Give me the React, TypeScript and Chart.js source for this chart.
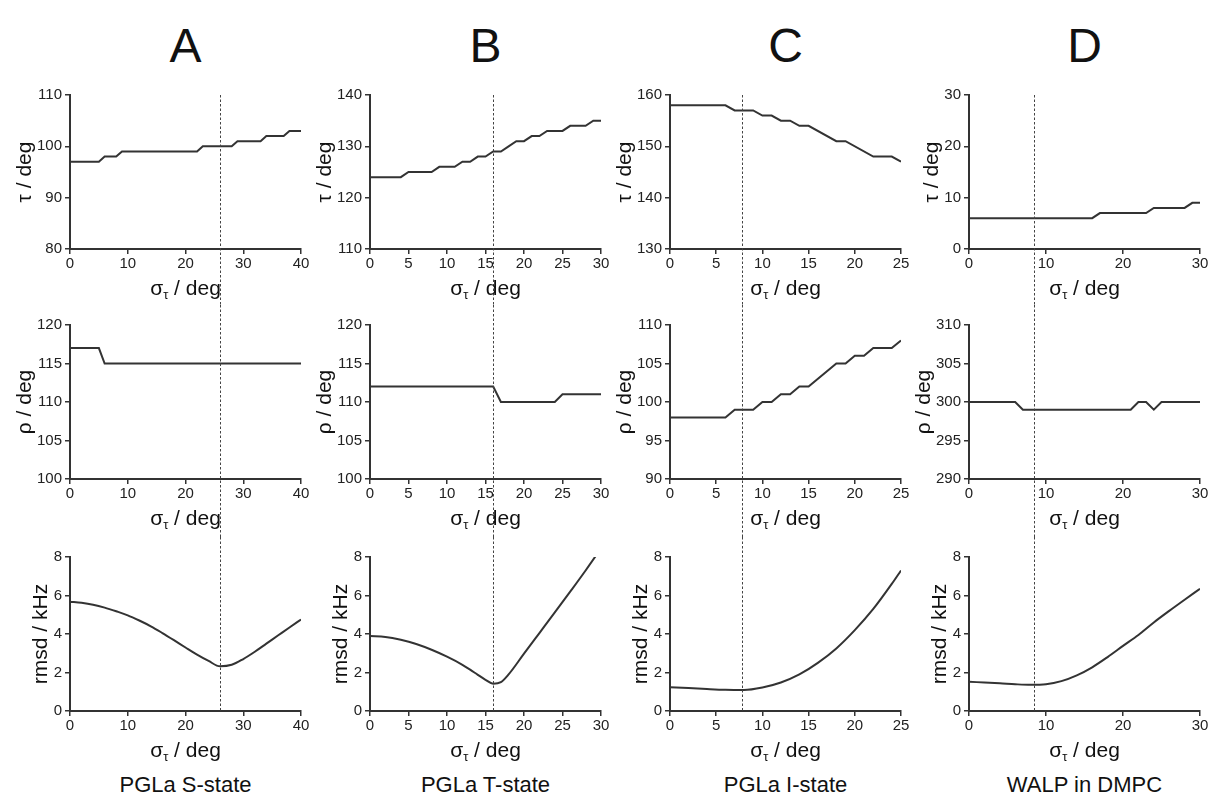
import React, { useEffect, useRef } from "react";
import { Chart, registerables } from "chart.js";

Chart.register(...registerables);

const FONT = '"Liberation Sans", Arial, Helvetica, sans-serif';

// ---------- DATA ----------
const panelLetters = ["A", "B", "C", "D"];
const panelNames = ["PGLa S-state", "PGLa T-state", "PGLa I-state", "WALP in DMPC"];
const markerSigma = [26, 16, 7.8, 8.5];

const xMaxes = [40, 30, 25, 30];
const xSteps = [10, 5, 5, 10];

const tauRanges = [[80, 110, 10], [110, 140, 10], [130, 160, 10], [0, 30, 10]];
const rhoRanges = [[100, 120, 5], [100, 120, 5], [90, 110, 5], [290, 310, 5]];
const rmsdRanges = [[0, 8, 2], [0, 8, 2], [0, 8, 2], [0, 8, 2]];

// A: PGLa S-state
const aTauX = [0, 5, 6, 8, 9, 22, 23, 28, 29, 33, 34, 37, 38, 40];
const aTauY = [97, 97, 98, 98, 99, 99, 100, 100, 101, 101, 102, 102, 103, 103];
const aRhoX = [0, 5, 6, 40];
const aRhoY = [117, 117, 115, 115];
const aRmsdX = [0, 2, 4, 6, 8, 10, 12, 14, 16, 18, 20, 22, 24, 26, 28, 30, 32, 34, 36, 38, 40];
const aRmsdY = [5.68, 5.62, 5.52, 5.37, 5.18, 4.97, 4.7, 4.4, 4.05, 3.68, 3.3, 2.93, 2.6, 2.32, 2.4, 2.7, 3.08, 3.5, 3.92, 4.34, 4.75];

// B: PGLa T-state
const bTauX = [0, 4, 5, 8, 9, 11, 12, 13, 14, 15, 16, 17, 18, 19, 20, 21, 22, 23, 25, 26, 28, 29, 30];
const bTauY = [124, 124, 125, 125, 126, 126, 127, 127, 128, 128, 129, 129, 130, 131, 131, 132, 132, 133, 133, 134, 134, 135, 135];
const bRhoX = [0, 16, 17, 24, 25, 30];
const bRhoY = [112, 112, 110, 110, 111, 111];
const bRmsdX = [0, 2, 4, 6, 8, 10, 12, 13, 14, 15, 16, 17, 18, 20, 22, 24, 26, 28, 30];
const bRmsdY = [3.9, 3.85, 3.7, 3.48, 3.18, 2.82, 2.4, 2.15, 1.88, 1.62, 1.42, 1.5, 1.9, 2.98, 4.05, 5.12, 6.2, 7.3, 8.45];

// C: PGLa I-state
const cTauX = [0, 6, 7, 9, 10, 11, 12, 13, 14, 15, 18, 19, 22, 24, 25];
const cTauY = [158, 158, 157, 157, 156, 156, 155, 155, 154, 154, 151, 151, 148, 148, 147];
const cRhoX = [0, 6, 7, 9, 10, 11, 12, 13, 14, 15, 18, 19, 20, 21, 22, 24, 25];
const cRhoY = [98, 98, 99, 99, 100, 100, 101, 101, 102, 102, 105, 105, 106, 106, 107, 107, 108];
const cRmsdX = [0, 2, 4, 6, 8, 10, 12, 14, 16, 18, 20, 22, 24, 25];
const cRmsdY = [1.23, 1.19, 1.14, 1.1, 1.09, 1.22, 1.48, 1.9, 2.5, 3.25, 4.2, 5.3, 6.6, 7.3];

// D: WALP in DMPC
const dTauX = [0, 16, 17, 23, 24, 28, 29, 30];
const dTauY = [6, 6, 7, 7, 8, 8, 9, 9];
const dRhoX = [0, 6, 7, 21, 22, 23, 24, 25, 30];
const dRhoY = [300, 300, 299, 299, 300, 300, 299, 300, 300];
const dRmsdX = [0, 2, 4, 6, 8, 10, 12, 14, 16, 18, 20, 22, 24, 26, 28, 30];
const dRmsdY = [1.52, 1.48, 1.44, 1.39, 1.36, 1.39, 1.55, 1.85, 2.27, 2.8, 3.38, 3.95, 4.6, 5.2, 5.78, 6.35];

const seriesGrid = [
  [[aTauX, aTauY], [bTauX, bTauY], [cTauX, cTauY], [dTauX, dTauY]],
  [[aRhoX, aRhoY], [bRhoX, bRhoY], [cRhoX, cRhoY], [dRhoX, dRhoY]],
  [[aRmsdX, aRmsdY], [bRmsdX, bRmsdY], [cRmsdX, cRmsdY], [dRmsdX, dRmsdY]],
];
const rowRanges = [tauRanges, rhoRanges, rmsdRanges];
const rowTitles = ["τ / deg", "ρ / deg", "rmsd / kHz"];

// ---------- LAYOUT ----------
const COL_LEFT = [70, 370, 670, 969];
const PLOT_W = 231;
const PLOT_H = 154;
const PAD_TOP = 20;
const Y_AXIS_W = 70;
const PAD_RIGHT = 10;
const CANVAS_W = Y_AXIS_W + PLOT_W + PAD_RIGHT;
const CANVAS_TOP = [75, 305, 537];
const CANVAS_H = [230, 232, 231];
const TICK_SIZE = 15;
const TITLE_SIZE = 21;
const SUB_SIZE = 13;
const INK = "#333";

const decorPlugin = {
  id: "decor",
  afterDraw(chart: any, _args: any, o: any) {
    const { ctx, chartArea: ca } = chart;
    const xs = chart.scales.x;
    const ys = chart.scales.y;
    ctx.save();
    // vertical dashed marker
    const px = Math.round(xs.getPixelForValue(o.marker)) + 0.5;
    ctx.strokeStyle = "#444";
    ctx.lineWidth = 1;
    ctx.setLineDash([2.5, 2]);
    ctx.beginPath();
    ctx.moveTo(px, o.row === 0 ? ca.top : 0);
    ctx.lineTo(px, o.row === 2 ? ca.bottom : chart.height);
    ctx.stroke();
    ctx.setLineDash([]);

    // x title with subscript
    ctx.fillStyle = "#111";
    ctx.textBaseline = "alphabetic";
    ctx.textAlign = "left";
    const big = `${TITLE_SIZE}px ${FONT}`;
    const small = `${SUB_SIZE}px ${FONT}`;
    ctx.font = big;
    const w1 = ctx.measureText("σ").width;
    const w3 = ctx.measureText(" / deg").width;
    ctx.font = small;
    const w2 = ctx.measureText("τ").width;
    let x = (ca.left + ca.right) / 2 - (w1 + w2 + w3) / 2;
    const base = ca.bottom + 46;
    ctx.font = big;
    ctx.fillText("σ", x, base);
    x += w1;
    ctx.font = small;
    ctx.fillText("τ", x, base + 4);
    x += w2;
    ctx.font = big;
    ctx.fillText(" / deg", x, base);

    // y title
    ctx.font = `${TICK_SIZE}px ${FONT}`;
    let mw = 0;
    for (const t of ys.ticks) mw = Math.max(mw, ctx.measureText(String(t.label)).width);
    const cx = ca.left - 5 - 3 - mw - 12;
    ctx.translate(cx, (ca.top + ca.bottom) / 2);
    ctx.rotate(-Math.PI / 2);
    ctx.font = big;
    ctx.textAlign = "center";
    ctx.textBaseline = "middle";
    ctx.fillText(o.yTitle, 0, 0);
    ctx.restore();
  },
};

type PanelProps = { row: number; col: number };

function Panel({ row, col }: PanelProps) {
  const ref = useRef<HTMLCanvasElement | null>(null);
  useEffect(() => {
    if (!ref.current) return;
    const [xs, ys] = seriesGrid[row][col];
    const [yMin, yMax, yStep] = rowRanges[row][col];
    const smooth = row === 2;
    const xAxisH = CANVAS_H[row] - PAD_TOP - PLOT_H;
    const chart = new Chart(ref.current, {
      type: "line",
      data: {
        datasets: [
          {
            data: xs.map((x: number, i: number) => ({ x, y: ys[i] })),
            borderColor: INK,
            borderWidth: 2,
            pointRadius: 0,
            fill: false,
            tension: smooth ? 0.4 : 0,
            cubicInterpolationMode: smooth ? "monotone" : "default",
          } as any,
        ],
      },
      options: {
        responsive: false,
        animation: false,
        devicePixelRatio: 1,
        layout: { padding: { top: PAD_TOP, right: PAD_RIGHT, left: 0, bottom: 0 } },
        plugins: {
          legend: { display: false },
          tooltip: { enabled: false },
          decor: { marker: markerSigma[col], row, yTitle: rowTitles[row] },
        } as any,
        scales: {
          x: {
            type: "linear",
            min: 0,
            max: xMaxes[col],
            ticks: {
              stepSize: xSteps[col],
              autoSkip: false,
              maxRotation: 0,
              padding: 1,
              color: "#222",
              font: { family: FONT, size: TICK_SIZE },
            },
            grid: { display: true, drawOnChartArea: false, drawTicks: true, tickLength: 5, color: INK, lineWidth: 1.5 },
            border: { display: true, color: INK, width: 2 },
            afterFit: (s: any) => {
              s.height = xAxisH;
            },
          },
          y: {
            type: "linear",
            min: yMin,
            max: yMax,
            ticks: {
              stepSize: yStep,
              autoSkip: false,
              padding: 3,
              color: "#222",
              font: { family: FONT, size: TICK_SIZE },
            },
            grid: { display: true, drawOnChartArea: false, drawTicks: true, tickLength: 5, color: INK, lineWidth: 1.5 },
            border: { display: true, color: INK, width: 2 },
            afterFit: (s: any) => {
              s.width = Y_AXIS_W;
            },
          },
        },
      } as any,
      plugins: [decorPlugin],
    });
    return () => chart.destroy();
  }, [row, col]);
  return (
    <canvas
      ref={ref}
      width={CANVAS_W}
      height={CANVAS_H[row]}
      style={{
        position: "absolute",
        left: COL_LEFT[col] - Y_AXIS_W,
        top: CANVAS_TOP[row],
        width: CANVAS_W,
        height: CANVAS_H[row],
      }}
    />
  );
}

export default function App() {
  const cells: JSX.Element[] = [];
  for (let r = 0; r < 3; r++) for (let c = 0; c < 4; c++) cells.push(<Panel key={`${r}-${c}`} row={r} col={c} />);
  return (
    <div
      style={{
        position: "fixed",
        left: 0,
        top: 0,
        width: 1210,
        height: 810,
        overflow: "hidden",
        background: "#fff",
        fontFamily: FONT,
      }}
    >
      {panelLetters.map((l, c) => (
        <div
          key={l}
          style={{
            position: "absolute",
            left: COL_LEFT[c] + PLOT_W / 2 - 60,
            width: 120,
            top: 22,
            textAlign: "center",
            fontSize: 48,
            lineHeight: 1,
            color: "#111",
          }}
        >
          {l}
        </div>
      ))}
      {cells}
      {panelNames.map((n, c) => (
        <div
          key={n}
          style={{
            position: "absolute",
            left: COL_LEFT[c] + PLOT_W / 2 - 120,
            width: 240,
            top: 774,
            textAlign: "center",
            fontSize: 22,
            lineHeight: 1,
            color: "#111",
          }}
        >
          {n}
        </div>
      ))}
    </div>
  );
}
